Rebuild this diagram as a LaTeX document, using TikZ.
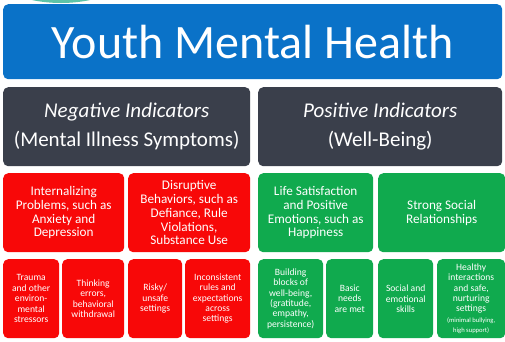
\documentclass[tikz,border=0pt]{standalone}
\usepackage{fontspec}
\setmainfont{Carlito}
\usetikzlibrary{positioning}
\definecolor{titleblue}{HTML}{0A72C8}
\definecolor{slate}{HTML}{3A3F4B}
\definecolor{negred}{HTML}{F80808}
\definecolor{posgreen}{HTML}{10AA4E}
\definecolor{tealtop}{HTML}{5EC3A8}

\begin{document}
\begin{tikzpicture}[x=1pt,y=-1pt,
  box/.style={anchor=north west,fill=#1,text=white,rounded corners=5pt,inner sep=0pt,align=center},
  big/.style={font=\fontsize{13.2}{13.8}\selectfont},
  small/.style={font=\fontsize{9.6}{10.4}\selectfont}]
  \clip (0,0) rectangle (505,341);
  \fill[tealtop] (61,-139) circle (142);
  % title and the two headings
  \node[box=titleblue,minimum width=499pt,minimum height=75pt,font=\fontsize{48}{54}\selectfont](title) at (3,4) {Youth Mental Health};
  \node[box=slate,minimum width=247pt,minimum height=79pt,font=\fontsize{21}{29}\selectfont](neg) at (3,87) {\textit{Negative Indicators}\\(Mental Illness Symptoms)};
  \node[box=slate,minimum width=244pt,minimum height=79pt,font=\fontsize{21}{29}\selectfont](pos) at (258,87) {\textit{Positive Indicators}\\(Well-Being)};
  % middle row
  \node[box=negred,big,minimum width=121pt,minimum height=79pt](intern) at (3,173) {Internalizing\\Problems, such as\\Anxiety and\\Depression};
  \node[box=negred,big,minimum width=122pt,minimum height=79pt](disrupt) at (128,173) {Disruptive\\Behaviors, such as\\Defiance, Rule\\Violations,\\Substance Use};
  \node[box=posgreen,big,minimum width=115pt,minimum height=79pt](satisf) at (258,173) {Life Satisfaction\\and Positive\\Emotions, such as\\Happiness};
  \node[box=posgreen,big,minimum width=127pt,minimum height=79pt](social) at (378,173) {Strong Social\\Relationships};
  % bottom row
  \node[box=negred,small,minimum width=56pt,minimum height=79pt](trauma) at (3,259) {Trauma\\and other\\environ-\\mental\\stressors};
  \node[box=negred,small,minimum width=62pt,minimum height=79pt](thinking) at (62,259) {Thinking\\errors,\\behavioral\\withdrawal};
  \node[box=negred,small,minimum width=54pt,minimum height=79pt](risky) at (128,259) {Risky/\\unsafe\\settings};
  \node[box=negred,small,minimum width=65pt,minimum height=79pt](rules) at (185,259) {Inconsistent\\rules and\\expectations\\across\\settings};
  \node[box=posgreen,small,minimum width=65pt,minimum height=79pt](blocks) at (258,259) {Building\\blocks of\\well-being,\\(gratitude,\\empathy,\\persistence)};
  \node[box=posgreen,small,minimum width=47pt,minimum height=79pt](needs) at (326,259) {Basic\\needs\\are met};
  \node[box=posgreen,small,minimum width=55pt,minimum height=79pt](skills) at (378,259) {Social and\\emotional\\skills};
  \node[box=posgreen,small,minimum width=68pt,minimum height=79pt](healthy) at (437,259) {Healthy\\interactions\\and safe,\\nurturing\\settings\\{\fontsize{6.6}{8.4}\selectfont(minimal bullying,}\\{\fontsize{6.6}{8.4}\selectfont high support)}};
\end{tikzpicture}
\end{document}
